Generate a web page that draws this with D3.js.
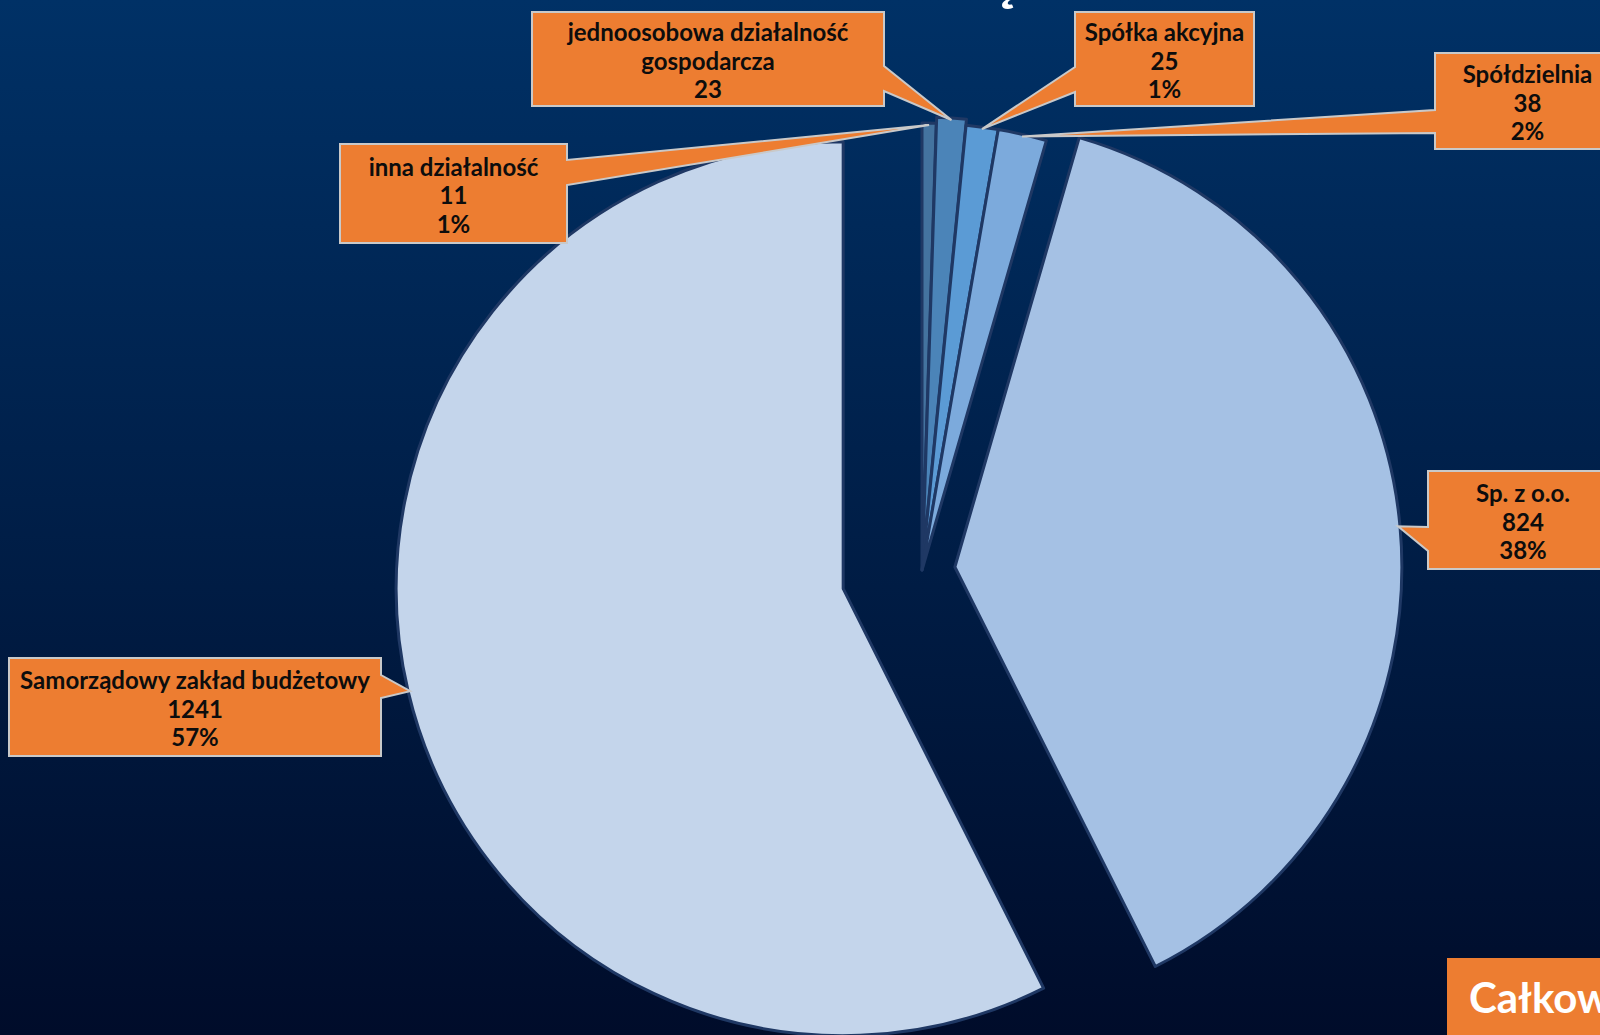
<!DOCTYPE html>
<html>
<head>
<meta charset="utf-8">
<script src="https://cdn.jsdelivr.net/npm/d3@7"></script>
<style>
html,body{margin:0;padding:0;background:#001a40;overflow:hidden;}
svg{display:block;}
</style>
</head>
<body>
<svg id="chart" width="1600" height="1035"></svg>
<script>
// ---- data ----
const categories = ["inna działalność", "jednoosobowa działalność gospodarcza", "Spółka akcyjna", "Spółdzielnia", "Sp. z o.o.", "Samorządowy zakład budżetowy"];
const nameLines = [["inna działalność"], ["jednoosobowa działalność", "gospodarcza"], ["Spółka akcyjna"], ["Spółdzielnia"], ["Sp. z o.o."], ["Samorządowy zakład budżetowy"]];
const values = [11, 23, 25, 38, 824, 1241];
const showPercent = [true, false, true, true, true, true];
const titleText = "STRUKTURA FORM PRAWNYCH PRZEDSIĘBIORSTW WOD-KAN";
const totalText = "Całkowita liczba: 2162";

// ---- styling / layout ----
const sliceColors = ["#44739f", "#4b84b8", "#5b9bd5", "#7caadc", "#a5c1e4", "#c4d5eb"];
const explode = [0, 6, 0, 0, 33, 81];
const boxes = [
  {x: 340, y: 144, w: 227, h: 99, side: "right", b0: 160, b1: 185},
  {x: 532, y: 12, w: 352, h: 94, side: "right", b0: 66, b1: 91},
  {x: 1075, y: 12, w: 179, h: 94, side: "left", b0: 67, b1: 92},
  {x: 1435, y: 53, w: 185, h: 96, side: "left", b0: 110, b1: 133},
  {x: 1428, y: 471, w: 190, h: 98, side: "left", b0: 527, b1: 551},
  {x: 9, y: 658, w: 372, h: 98, side: "right", b0: 675, b1: 698}
];

const W = 1600, H = 1035, cx = 922, cy = 570, R = 447;
const svg = d3.select("#chart");

const defs = svg.append("defs");
const grad = defs.append("linearGradient").attr("id", "bg").attr("x1", 0).attr("y1", 0).attr("x2", 0).attr("y2", 1);
grad.append("stop").attr("offset", "0%").attr("stop-color", "#003166");
grad.append("stop").attr("offset", "100%").attr("stop-color", "#000c2a");
svg.append("rect").attr("width", W).attr("height", H).attr("fill", "url(#bg)");

// title (clipped at the top, as in the reference)
svg.append("text").attr("x", 10).attr("y", 0)
  .attr("font-family", "Lato").attr("font-weight", 900).attr("font-size", 56)
  .attr("fill", "#ffffff").attr("textLength", 1510).attr("lengthAdjust", "spacing")
  .text(titleText);

const total = d3.sum(values);
const pie = d3.pie().sort(null).value(d => d).startAngle(0).endAngle(2 * Math.PI);
const arcs = pie(values);
const arc = d3.arc().innerRadius(0).outerRadius(R);

const g = svg.append("g").attr("transform", `translate(${cx},${cy})`);
arcs.forEach((a, i) => {
  const mid = (a.startAngle + a.endAngle) / 2;
  a.dx = explode[i] * Math.sin(mid);
  a.dy = -explode[i] * Math.cos(mid);
  a.mid = mid;
});
g.selectAll("path.slice").data(arcs).join("path")
  .attr("class", "slice")
  .attr("transform", d => `translate(${d.dx},${d.dy})`)
  .attr("d", arc)
  .attr("fill", (d, i) => sliceColors[i])
  .attr("stroke", "#1f3864")
  .attr("stroke-width", 3)
  .attr("stroke-linejoin", "round");

// callout labels
const lab = svg.append("g");
arcs.forEach((a, i) => {
  const b = boxes[i];
  const tx = cx + a.dx + (R - 2) * Math.sin(a.mid);
  const ty = cy + a.dy - (R - 2) * Math.cos(a.mid);
  let p;
  if (b.side === "right") {
    p = `M${b.x},${b.y}L${b.x + b.w},${b.y}L${b.x + b.w},${b.b0}L${tx},${ty}L${b.x + b.w},${b.b1}L${b.x + b.w},${b.y + b.h}L${b.x},${b.y + b.h}Z`;
  } else {
    p = `M${b.x},${b.y}L${b.x + b.w},${b.y}L${b.x + b.w},${b.y + b.h}L${b.x},${b.y + b.h}L${b.x},${b.b1}L${tx},${ty}L${b.x},${b.b0}Z`;
  }
  lab.append("path").attr("d", p).attr("fill", "#ed7d31")
    .attr("stroke", "#c9c9c9").attr("stroke-width", 2).attr("stroke-linejoin", "miter");
  const lines = nameLines[i].slice();
  lines.push(String(values[i]));
  if (showPercent[i]) lines.push(Math.round(values[i] / total * 100) + "%");
  const lh = 28.5;
  const mcy = b.y + b.h / 2 + 1.5;
  const t = lab.append("text").attr("text-anchor", "middle")
    .attr("font-family", "Lato").attr("font-weight", 700).attr("font-size", 24).attr("fill", "#0d0d0d");
  lines.forEach((ln, k) => {
    t.append("tspan").attr("x", b.x + b.w / 2)
      .attr("y", mcy + (k - (lines.length - 1) / 2) * lh + 9)
      .text(ln);
  });
});

// total box (partially off-canvas)
svg.append("rect").attr("x", 1447).attr("y", 958).attr("width", 400).attr("height", 120).attr("fill", "#ed7d31");
svg.append("text").attr("x", 1469).attr("y", 1013)
  .attr("font-family", "Lato").attr("font-weight", 700).attr("font-size", 42).attr("fill", "#ffffff")
  .text(totalText);
</script>
</body>
</html>
